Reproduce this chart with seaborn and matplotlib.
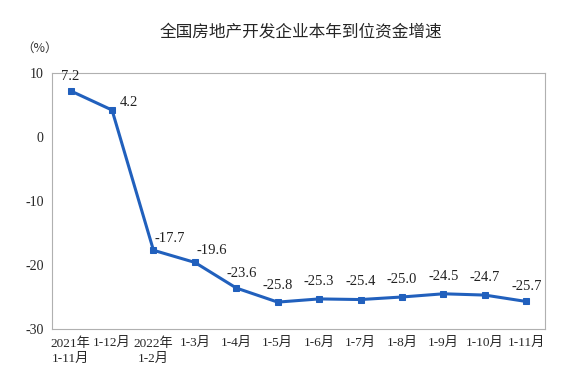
import matplotlib
matplotlib.use("Agg")
import matplotlib.pyplot as plt
import seaborn as sns
import pandas as pd

# data
periods = ["2021年\n1-11月", "1-12月", "2022年\n1-2月", "1-3月", "1-4月", "1-5月",
           "1-6月", "1-7月", "1-8月", "1-9月", "1-10月", "1-11月"]
growth = [7.2, 4.2, -17.7, -19.6, -23.6, -25.8, -25.3, -25.4, -25.0, -24.5, -24.7, -25.7]
title = "全国房地产开发企业本年到位资金增速"

df = pd.DataFrame({"period": periods, "growth": growth, "pos": range(len(periods))})

sns.set_style("white")
plt.rcParams["font.family"] = ["Liberation Serif", "Noto Sans CJK SC", "DejaVu Sans"]

fig = plt.figure(figsize=(5.62, 3.76), dpi=100)
ax = fig.add_axes([0.0925, 0.125, 0.877, 0.681])

line_color = "#2160bd"
sns.lineplot(data=df, x="pos", y="growth", ax=ax, color=line_color, linewidth=2.2,
             marker="s", markersize=5, markeredgecolor=line_color)

# label offsets (points) so the numbers sit like in the original
offsets = [(0, 6), (12, 1), (12, 4), (12, 4), (4, 6), (0, 7),
           (0, 8), (0, 8), (0, 8), (0, 8), (0, 8), (0, 6)]
for (i, v), off in zip(enumerate(growth), offsets):
    ax.annotate(f"{v:.1f}", (i, v), xytext=off, textcoords="offset points",
                ha="center", va="bottom", fontsize=10.5, color="#222222")

ax.set_xlim(-0.45, len(periods) - 0.55)
ax.set_ylim(-30, 10)
ax.set_yticks([10, 0, -10, -20, -30])
ax.set_yticklabels(["10", "0", "-10", "-20", "-30"], fontsize=10)
ax.set_xticks(range(len(periods)))
ax.set_xticklabels(periods, fontsize=9.5, linespacing=1.3)
ax.tick_params(axis="x", length=0, pad=6)
ax.tick_params(axis="y", length=0, pad=6)
ax.set_xticks([i + 0.5 for i in range(len(periods) - 1)], minor=True)
ax.tick_params(axis="x", which="minor", length=5, width=0.8, color="#aaaaaa", direction="in")
ax.set_xlabel("")
ax.set_ylabel("")
for s in ax.spines.values():
    s.set_color("#b0b0b0")
    s.set_linewidth(0.8)

fig.text(0.535, 0.915, title, ha="center", va="center", fontsize=12,
         family=["Noto Sans CJK SC", "DejaVu Sans"])
fig.text(0.07, 0.872, "（%）", ha="center", va="center", fontsize=9, color="#333333",
         family=["Noto Sans CJK SC", "DejaVu Sans"])

fig.savefig("out.png", dpi=100)
